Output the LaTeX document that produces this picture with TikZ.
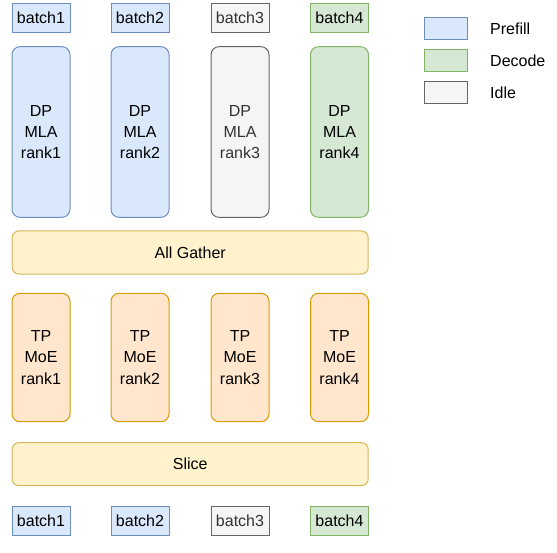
\documentclass[tikz,border=0pt]{standalone}
\usepackage{fontspec}
\setmainfont{Liberation Sans}
\usepackage{tikz}
\usetikzlibrary{positioning}
\usepackage{xcolor}
\definecolor{prefillfill}{HTML}{DAE8FC}
\definecolor{prefilldraw}{HTML}{6C8EBF}
\definecolor{decodefill}{HTML}{D5E8D4}
\definecolor{decodedraw}{HTML}{82B366}
\definecolor{idlefill}{HTML}{F5F5F5}
\definecolor{idledraw}{HTML}{666666}
\definecolor{idletext}{HTML}{333333}
\definecolor{moefill}{HTML}{FFE6CC}
\definecolor{moedraw}{HTML}{D79B00}
\definecolor{commfill}{HTML}{FFF2CC}
\definecolor{commdraw}{HTML}{D6B656}

\begin{document}
\begin{tikzpicture}[
			x=0.75pt, y=-0.75pt,
			every node/.style={line width=0.75pt, inner sep=0pt, align=center, font=\fontsize{12}{16}\selectfont},
			batch/.style={draw, minimum width=43.5pt, minimum height=21.4pt},
			rank/.style={draw, rounded corners=6pt, minimum width=43.5pt, minimum height=128pt},
			moe/.style={draw=moedraw, fill=moefill, rounded corners=6pt, minimum width=43.5pt, minimum height=96.3pt},
			comm/.style={draw=commdraw, fill=commfill, rounded corners=5pt, minimum width=267pt, minimum height=32.3pt},
			legend/.style={draw, minimum width=32.8pt, minimum height=16.5pt},
			prefill/.style={draw=prefilldraw, fill=prefillfill},
			decode/.style={draw=decodedraw, fill=decodefill},
			idle/.style={draw=idledraw, fill=idlefill, text=idletext}
			]
			\useasboundingbox (0,0) rectangle (557,553);
			
			\node[batch, prefill] (in1) at (41, 18) {batch1};
			\node[batch, prefill] (in2) at (140, 18) {batch2};
			\node[batch, idle] (in3) at (240, 18) {batch3};
			\node[batch, decode] (in4) at (339.5, 18) {batch4};
			
			\node[rank, prefill] (mla1) at (41, 132) {DP\\MLA\\rank1};
			\node[rank, prefill] (mla2) at (140, 132) {DP\\MLA\\rank2};
			\node[rank, idle] (mla3) at (240, 132) {DP\\MLA\\rank3};
			\node[rank, decode] (mla4) at (339.5, 132) {DP\\MLA\\rank4};
			
			\node[comm] (gather) at (190.2, 252.5) {All Gather};
			
			\node[moe] (moe1) at (41, 357.5) {TP\\MoE\\rank1};
			\node[moe] (moe2) at (140, 357.5) {TP\\MoE\\rank2};
			\node[moe] (moe3) at (240, 357.5) {TP\\MoE\\rank3};
			\node[moe] (moe4) at (339.5, 357.5) {TP\\MoE\\rank4};
			
			\node[comm] (slice) at (190.2, 464.2) {Slice};
			
			\node[batch, prefill] (out1) at (41, 521) {batch1};
			\node[batch, prefill] (out2) at (140, 521) {batch2};
			\node[batch, idle] (out3) at (240, 521) {batch3};
			\node[batch, decode] (out4) at (339.5, 521) {batch4};
			
			% legend
			\node[legend, prefill] (lprefill) at (446, 28.3) {};
			\node[legend, decode] (ldecode) at (446, 60.3) {};
			\node[legend, idle] (lidle) at (446, 92.7) {};
			\node[anchor=west, right=16pt of lprefill] {Prefill};
			\node[anchor=west, right=16pt of ldecode] {Decode};
			\node[anchor=west, right=16pt of lidle] {Idle};
			
		\end{tikzpicture}
\end{document}
